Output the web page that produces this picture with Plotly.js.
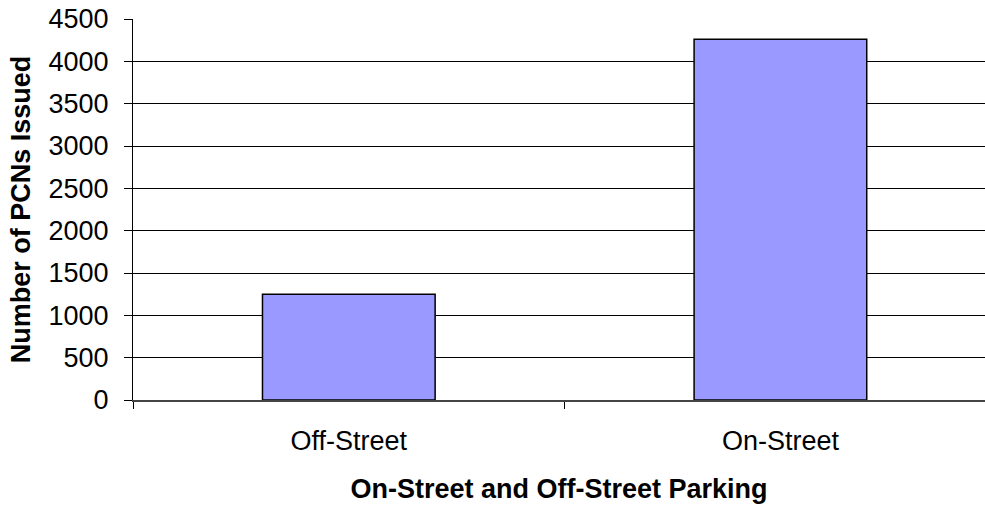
<!DOCTYPE html>
<html>
<head>
<meta charset="utf-8">
<script src="https://cdn.plot.ly/plotly-3.0.1.min.js"></script>
<style>html,body{margin:0;padding:0;background:#fff;}#chart{width:985px;height:506px;}</style>
</head>
<body>
<div id="chart"></div>
<script>
var categories = ["Off-Street", "On-Street"];
var pcnCounts = [1250, 4260];
var yTickValues = [0, 500, 1000, 1500, 2000, 2500, 3000, 3500, 4000, 4500];
var yTickLabels = ["0", "500", "1000", "1500", "2000", "2500", "3000", "3500", "4000", "4500"];

var trace = {
  type: "bar",
  x: categories,
  y: pcnCounts,
  width: 0.4,
  marker: {color: "#9999FF", line: {color: "#000000", width: 1.5}},
  hoverinfo: "skip"
};

var font = "Liberation Sans, Arial, sans-serif";
var layout = {
  width: 985,
  height: 506,
  margin: {l: 133, r: 0, t: 19, b: 106, pad: 0},
  paper_bgcolor: "#ffffff",
  plot_bgcolor: "#ffffff",
  showlegend: false,
  bargap: 0.6,
  xaxis: {
    type: "category",
    range: [-0.5, 1.474],
    tickson: "boundaries",
    ticks: "outside",
    ticklen: 7,
    tickwidth: 1,
    tickcolor: "#000000",
    showline: true,
    linecolor: "#444444",
    linewidth: 2,
    showgrid: false,
    zeroline: false,
    automargin: false,
    tickfont: {family: font, size: 27, color: "#000000"},
    ticklabelstandoff: 16,
    title: {text: "On-Street and Off-Street Parking", font: {family: font, size: 27, color: "#000000", weight: "bold"}, standoff: 24}
  },
  yaxis: {
    range: [0, 4500],
    tickvals: yTickValues,
    ticktext: yTickLabels,
    ticks: "outside",
    ticklen: 8,
    tickwidth: 1,
    tickcolor: "#000000",
    showline: true,
    linecolor: "#000000",
    linewidth: 1,
    showgrid: true,
    gridcolor: "#000000",
    gridwidth: 1,
    zeroline: false,
    automargin: false,
    tickfont: {family: font, size: 27, color: "#000000"},
    ticklabelstandoff: 10,
    title: {text: "Number of PCNs Issued", font: {family: font, size: 27, color: "#000000", weight: "bold"}, standoff: 10}
  }
};

Plotly.newPlot("chart", [trace], layout, {displayModeBar: false, staticPlot: true});
</script>
</body>
</html>
